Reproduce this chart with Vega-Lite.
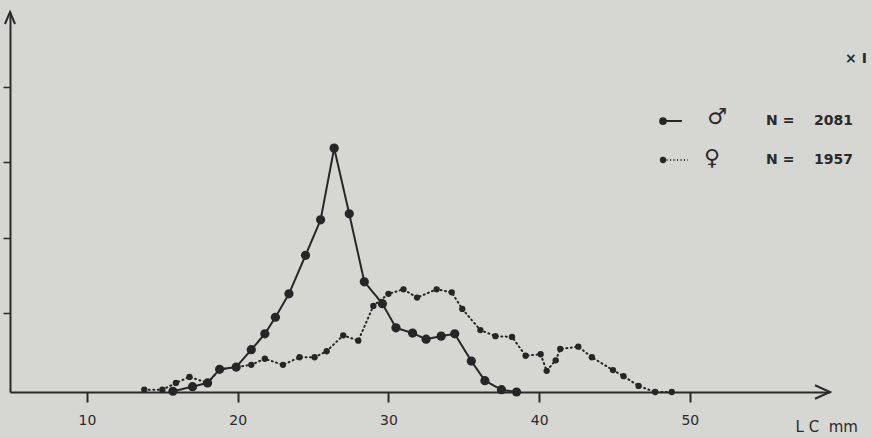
{
  "$schema": "https://vega.github.io/schema/vega-lite/v6.json",
  "width": 820,
  "height": 380,
  "autosize": {"type": "none"},
  "padding": {"left": 10, "top": 12, "right": 41, "bottom": 45},
  "background": "#d6d6d2",
  "config": {"view": {"stroke": null}, "font": "DejaVu Sans"},
  "data": {
    "values": [
      {"series": "male", "lc": 15.7, "n": 0.01},
      {"series": "male", "lc": 17.0, "n": 0.07},
      {"series": "male", "lc": 18.0, "n": 0.12},
      {"series": "male", "lc": 18.8, "n": 0.30},
      {"series": "male", "lc": 19.9, "n": 0.33},
      {"series": "male", "lc": 20.9, "n": 0.56},
      {"series": "male", "lc": 21.8, "n": 0.77},
      {"series": "male", "lc": 22.5, "n": 0.99},
      {"series": "male", "lc": 23.4, "n": 1.30},
      {"series": "male", "lc": 24.5, "n": 1.81},
      {"series": "male", "lc": 25.5, "n": 2.28},
      {"series": "male", "lc": 26.4, "n": 3.23},
      {"series": "male", "lc": 27.4, "n": 2.36},
      {"series": "male", "lc": 28.4, "n": 1.46},
      {"series": "male", "lc": 29.6, "n": 1.17},
      {"series": "male", "lc": 30.5, "n": 0.85},
      {"series": "male", "lc": 31.6, "n": 0.78},
      {"series": "male", "lc": 32.5, "n": 0.70},
      {"series": "male", "lc": 33.5, "n": 0.74},
      {"series": "male", "lc": 34.4, "n": 0.77},
      {"series": "male", "lc": 35.5, "n": 0.41},
      {"series": "male", "lc": 36.4, "n": 0.15},
      {"series": "male", "lc": 37.5, "n": 0.03},
      {"series": "male", "lc": 38.5, "n": 0.0},
      {"series": "female", "lc": 13.8, "n": 0.03},
      {"series": "female", "lc": 15.0, "n": 0.03},
      {"series": "female", "lc": 15.9, "n": 0.12},
      {"series": "female", "lc": 16.8, "n": 0.20},
      {"series": "female", "lc": 18.0, "n": 0.12},
      {"series": "female", "lc": 18.8, "n": 0.30},
      {"series": "female", "lc": 19.9, "n": 0.33},
      {"series": "female", "lc": 20.9, "n": 0.36},
      {"series": "female", "lc": 21.8, "n": 0.44},
      {"series": "female", "lc": 23.0, "n": 0.36},
      {"series": "female", "lc": 24.1, "n": 0.46},
      {"series": "female", "lc": 25.1, "n": 0.46},
      {"series": "female", "lc": 25.9, "n": 0.54},
      {"series": "female", "lc": 27.0, "n": 0.75},
      {"series": "female", "lc": 28.0, "n": 0.68},
      {"series": "female", "lc": 29.0, "n": 1.14},
      {"series": "female", "lc": 30.0, "n": 1.30},
      {"series": "female", "lc": 31.0, "n": 1.36},
      {"series": "female", "lc": 31.9, "n": 1.25},
      {"series": "female", "lc": 33.2, "n": 1.36},
      {"series": "female", "lc": 34.2, "n": 1.32},
      {"series": "female", "lc": 34.9, "n": 1.10},
      {"series": "female", "lc": 36.1, "n": 0.82},
      {"series": "female", "lc": 37.1, "n": 0.74},
      {"series": "female", "lc": 38.2, "n": 0.73},
      {"series": "female", "lc": 39.1, "n": 0.48},
      {"series": "female", "lc": 40.1, "n": 0.50},
      {"series": "female", "lc": 40.5, "n": 0.28},
      {"series": "female", "lc": 41.1, "n": 0.42},
      {"series": "female", "lc": 41.4, "n": 0.57},
      {"series": "female", "lc": 42.6, "n": 0.60},
      {"series": "female", "lc": 43.5, "n": 0.46},
      {"series": "female", "lc": 44.9, "n": 0.29},
      {"series": "female", "lc": 45.6, "n": 0.21},
      {"series": "female", "lc": 46.6, "n": 0.08},
      {"series": "female", "lc": 47.7, "n": 0.0},
      {"series": "female", "lc": 48.8, "n": 0.0}
    ]
  },
  "layer": [
    {
      "mark": {"type": "line", "clip": false, "color": "#262626", "strokeCap": "round", "strokeWidth": 2},
      "encoding": {
        "x": {
          "field": "lc", "type": "quantitative",
          "scale": {"domain": [4.89, 59.3], "nice": false, "zero": false},
          "axis": {
            "values": [10, 20, 30, 40, 50],
            "grid": false,
            "domainColor": "#2a2a2a", "domainWidth": 2,
            "tickColor": "#2a2a2a", "tickWidth": 2, "tickSize": 10,
            "labelFontSize": 14, "labelColor": "#2a2a2a", "labelPadding": 11,
            "labelFont": "DejaVu Sans",
            "title": "L\u00a0C\u00a0\u00a0mm", "titleFontSize": 15, "titleFontWeight": "normal",
            "titleColor": "#2a2a2a", "titleAnchor": "start", "titleAlign": "left",
            "titleX": 785, "titleY": 39, "titleBaseline": "alphabetic"
          }
        },
        "y": {
          "field": "n", "type": "quantitative",
          "scale": {"domain": [0, 5.033], "nice": false},
          "axis": {
            "values": [1.042, 2.044, 3.042, 4.044],
            "grid": false, "labels": false, "title": null,
            "domainColor": "#2a2a2a", "domainWidth": 2,
            "tickColor": "#2a2a2a", "tickWidth": 1.5, "tickSize": 7
          }
        },
        "strokeDash": {
          "field": "series", "type": "nominal",
          "scale": {"domain": ["male", "female"], "range": [[1, 0], [1, 3.5]]},
          "legend": null
        }
      }
    },
    {
      "mark": {"type": "point", "filled": true, "opacity": 1, "color": "#262626", "clip": false},
      "encoding": {
        "x": {"field": "lc", "type": "quantitative"},
        "y": {"field": "n", "type": "quantitative"},
        "size": {
          "field": "series", "type": "nominal",
          "scale": {"domain": ["male", "female"], "range": [85, 40]},
          "legend": null
        }
      }
    },
    {
      "data": {"values": [{}]},
      "mark": {"type": "point", "shape": "M-1,-0.45 L0,0 L-1,0.45", "filled": false, "stroke": "#2a2a2a", "strokeWidth": 2, "size": 900, "opacity": 1, "clip": false},
      "encoding": {
        "x": {"datum": 59.3, "type": "quantitative"},
        "y": {"datum": 0, "type": "quantitative"}
      }
    },
    {
      "data": {"values": [{}]},
      "mark": {"type": "point", "shape": "M-0.42,1 L0,0 L0.42,1", "filled": false, "stroke": "#2a2a2a", "strokeWidth": 2, "size": 576, "opacity": 1, "clip": false},
      "encoding": {
        "x": {"datum": 4.89, "type": "quantitative"},
        "y": {"datum": 5.033, "type": "quantitative"}
      }
    },
    {
      "data": {"values": [{}]},
      "mark": {"type": "text", "text": "× I", "fontSize": 14, "fontWeight": "bold", "color": "#2a2a2a", "align": "left", "baseline": "middle", "clip": false},
      "encoding": {
        "x": {"datum": 60.3, "type": "quantitative"},
        "y": {"datum": 4.41, "type": "quantitative"}
      }
    },
    {
      "data": {"values": [{}]},
      "mark": {"type": "rule", "color": "#262626", "strokeWidth": 2, "clip": false},
      "encoding": {
        "x": {"datum": 48.22, "type": "quantitative"},
        "x2": {"datum": 49.48},
        "y": {"datum": 3.589, "type": "quantitative"}
      }
    },
    {
      "data": {"values": [{}]},
      "mark": {"type": "rule", "color": "#262626", "strokeWidth": 2, "strokeDash": [1, 2.5], "clip": false},
      "encoding": {
        "x": {"datum": 48.22, "type": "quantitative"},
        "x2": {"datum": 49.88},
        "y": {"datum": 3.073, "type": "quantitative"}
      }
    },
    {
      "data": {"values": [{}]},
      "mark": {"type": "point", "filled": true, "opacity": 1, "color": "#262626", "size": 60, "clip": false},
      "encoding": {
        "x": {"datum": 48.22, "type": "quantitative"},
        "y": {"datum": 3.589, "type": "quantitative"}
      }
    },
    {
      "data": {"values": [{}]},
      "mark": {"type": "point", "filled": true, "opacity": 1, "color": "#262626", "size": 40, "clip": false},
      "encoding": {
        "x": {"datum": 48.22, "type": "quantitative"},
        "y": {"datum": 3.073, "type": "quantitative"}
      }
    },
    {
      "data": {"values": [{}]},
      "mark": {"type": "text", "text": "♂", "fontSize": 22, "color": "#2a2a2a", "align": "center", "baseline": "middle", "clip": false},
      "encoding": {
        "x": {"datum": 51.81, "type": "quantitative"},
        "y": {"datum": 3.64, "type": "quantitative"}
      }
    },
    {
      "data": {"values": [{}]},
      "mark": {"type": "text", "text": "♀", "fontSize": 22, "color": "#2a2a2a", "align": "center", "baseline": "middle", "clip": false},
      "encoding": {
        "x": {"datum": 51.48, "type": "quantitative"},
        "y": {"datum": 3.10, "type": "quantitative"}
      }
    },
    {
      "data": {"values": [{}]},
      "mark": {"type": "text", "text": "N\u00a0=\u00a0\u00a0\u00a0\u00a02081", "fontSize": 14, "fontWeight": "bold", "color": "#2a2a2a", "align": "left", "baseline": "middle", "clip": false},
      "encoding": {
        "x": {"datum": 55.06, "type": "quantitative"},
        "y": {"datum": 3.589, "type": "quantitative"}
      }
    },
    {
      "data": {"values": [{}]},
      "mark": {"type": "text", "text": "N\u00a0=\u00a0\u00a0\u00a0\u00a01957", "fontSize": 14, "fontWeight": "bold", "color": "#2a2a2a", "align": "left", "baseline": "middle", "clip": false},
      "encoding": {
        "x": {"datum": 55.06, "type": "quantitative"},
        "y": {"datum": 3.073, "type": "quantitative"}
      }
    }
  ]
}
